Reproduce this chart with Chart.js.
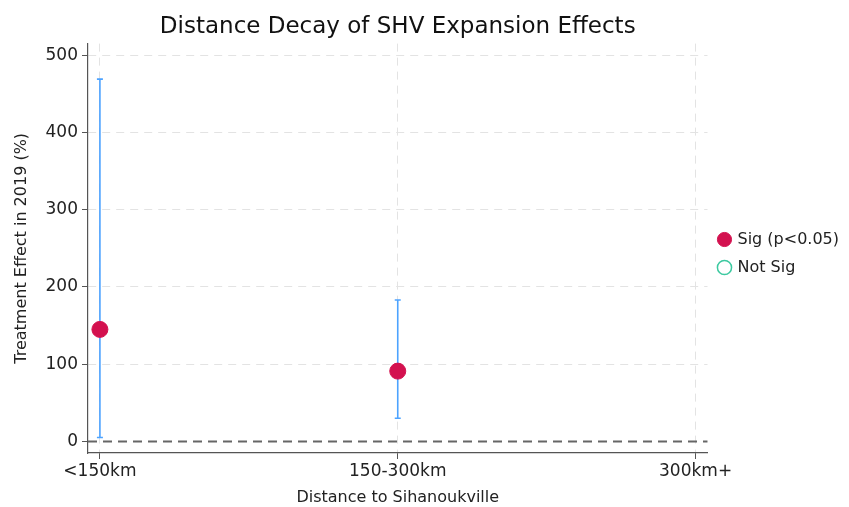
<!DOCTYPE html>
<html>
<head>
    <title>Distance Decay of SHV Expansion Effects</title>
    <script src="https://cdn.jsdelivr.net/npm/chart.js"></script>
    <style>
        html, body { margin: 0; padding: 0; background: #fff; }
        #wrap { width: 849px; height: 507px; }
    </style>
</head>
<body>
    <div id="wrap"><canvas id="decayChart"></canvas></div>

    <script>
        // data
        const categories = ['<150km', '150-300km', '300km+'];
        const sigEffect = [145, 91];
        const ciLow = [5, 30];
        const ciHigh = [469, 183];
        const notSigEffect = [];
        const yTicks = [0, 100, 200, 300, 400, 500];

        const sigPoints = sigEffect.map((v, i) => ({ x: i, y: v }));
        const notSigPoints = notSigEffect.map((v, i) => ({ x: i, y: v }));

        const FONT = 'DejaVu Sans, sans-serif';

        // CI whiskers + dashed zero reference line
        const extras = {
            id: 'extras',
            beforeDatasetsDraw(chart) {
                const c = chart.ctx;
                const xs = chart.scales.x, ys = chart.scales.y;
                const area = chart.chartArea;

                c.save();
                c.strokeStyle = '#666';
                c.lineWidth = 2;
                c.setLineDash([9, 6]);
                const y0 = ys.getPixelForValue(0);
                c.beginPath();
                c.moveTo(area.left, y0);
                c.lineTo(area.right, y0);
                c.stroke();
                c.restore();

                c.save();
                c.strokeStyle = '#4da3ff';
                c.lineWidth = 1.6;
                ciLow.forEach((lo, i) => {
                    const x = xs.getPixelForValue(i);
                    const yl = ys.getPixelForValue(lo);
                    const yh = ys.getPixelForValue(ciHigh[i]);
                    c.beginPath();
                    c.moveTo(x, yl); c.lineTo(x, yh);
                    c.moveTo(x - 3, yl); c.lineTo(x + 3, yl);
                    c.moveTo(x - 3, yh); c.lineTo(x + 3, yh);
                    c.stroke();
                });
                c.restore();
            }
        };

        const ctx = document.getElementById('decayChart').getContext('2d');
        new Chart(ctx, {
            type: 'scatter',
            data: {
                datasets: [{
                    label: 'Sig (p<0.05)',
                    data: sigPoints,
                    backgroundColor: '#d3114f',
                    borderColor: '#d3114f',
                    pointRadius: 8,
                    pointHoverRadius: 8
                }, {
                    label: 'Not Sig',
                    data: notSigPoints,
                    backgroundColor: 'rgba(0,0,0,0)',
                    borderColor: '#3cc9a0',
                    borderWidth: 1.5,
                    pointRadius: 6
                }]
            },
            options: {
                responsive: true,
                maintainAspectRatio: false,
                animation: false,
                layout: { padding: { left: 12, right: 0, top: 0, bottom: 0 } },
                plugins: {
                    title: {
                        display: true,
                        text: 'Distance Decay of SHV Expansion Effects',
                        fullSize: false,
                        color: '#111',
                        font: { family: FONT, size: 23, weight: 'normal' },
                        padding: { top: 13, bottom: 3 }
                    },
                    legend: {
                        position: 'right',
                        labels: {
                            usePointStyle: true,
                            pointStyle: 'circle',
                            boxWidth: 10,
                            boxHeight: 10,
                            padding: 12,
                            color: '#222',
                            font: { family: FONT, size: 16 }
                        }
                    },
                    tooltip: { enabled: false }
                },
                scales: {
                    x: {
                        type: 'linear',
                        min: -0.04,
                        max: 2.04,
                        afterBuildTicks(scale) {
                            scale.ticks = categories.map((c, i) => ({ value: i }));
                        },
                        afterFit(scale) { scale.height = 54; },
                        ticks: {
                            callback: (v) => categories[v],
                            color: '#222',
                            font: { family: FONT, size: 17 },
                            padding: 2,
                            maxRotation: 0
                        },
                        grid: {
                            color: '#e3e3e3',
                            tickColor: '#555',
                            tickLength: 6,
                            tickBorderDash: []
                        },
                        border: { color: '#555', width: 1.2, dash: [8, 6] },
                        title: {
                            display: true,
                            text: 'Distance to Sihanoukville',
                            color: '#222',
                            font: { family: FONT, size: 16 },
                            padding: { top: 0, bottom: 0 }
                        }
                    },
                    y: {
                        min: -15,
                        max: 515,
                        afterBuildTicks(scale) {
                            scale.ticks = yTicks.map(v => ({ value: v }));
                        },
                        afterFit(scale) { scale.width = 76; },
                        ticks: {
                            color: '#222',
                            font: { family: FONT, size: 17 },
                            padding: 4
                        },
                        grid: {
                            color: (c) => c.tick && c.tick.value === 0 ? 'rgba(0,0,0,0)' : '#e3e3e3',
                            tickColor: '#555',
                            tickLength: 6,
                            tickBorderDash: []
                        },
                        border: { color: '#555', width: 1.2, dash: [8, 6] },
                        title: {
                            display: true,
                            text: 'Treatment Effect in 2019 (%)',
                            color: '#222',
                            font: { family: FONT, size: 16 },
                            padding: { top: 0, bottom: 0 }
                        }
                    }
                }
            },
            plugins: [extras]
        });
    </script>
</body>
</html>
